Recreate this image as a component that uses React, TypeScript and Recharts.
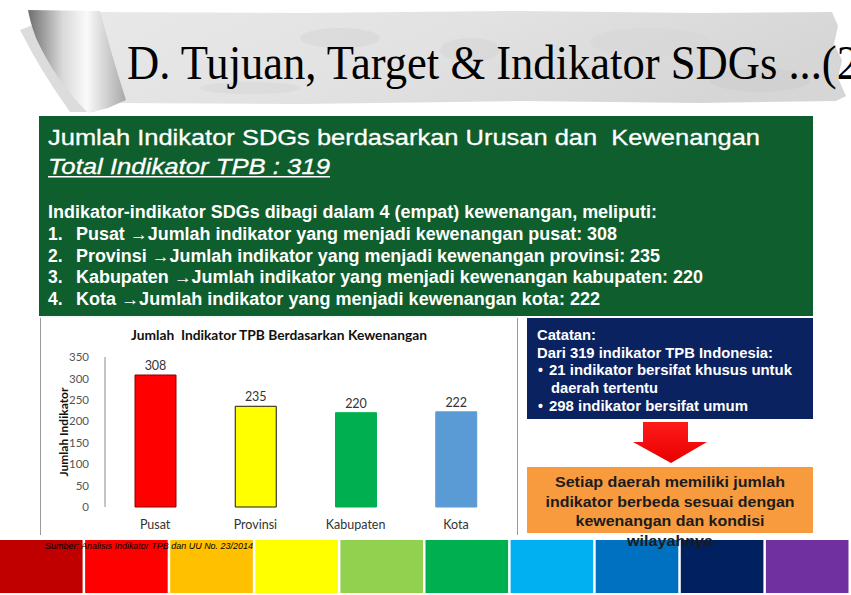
import React from 'react';
import { BarChart, Bar, XAxis, YAxis, Cell, LabelList } from 'recharts';

const categories = ['Pusat', 'Provinsi', 'Kabupaten', 'Kota'];
const values = [308, 235, 220, 222];
const barColors = ['#FF0000', '#FFFF00', '#00B050', '#5B9BD5'];
const barStrokes = ['#8B0000', '#1a1a1a', '#00B050', '#5B9BD5'];
const yTicks = [0, 50, 100, 150, 200, 250, 300, 350];

const pageTitle = 'D. Tujuan, Target & Indikator SDGs ...(2';
const greenHeading = 'Jumlah Indikator SDGs berdasarkan Urusan dan  Kewenangan';
const greenTotal = 'Total Indikator TPB : 319';
const greenIntro = 'Indikator-indikator SDGs dibagi dalam 4 (empat) kewenangan, meliputi:';
const greenItems = [
  'Pusat \u2192Jumlah indikator yang menjadi kewenangan pusat: 308',
  'Provinsi \u2192Jumlah indikator yang menjadi kewenangan provinsi: 235',
  'Kabupaten \u2192Jumlah indikator yang menjadi kewenangan kabupaten: 220',
  'Kota \u2192Jumlah indikator yang menjadi kewenangan kota: 222',
];
const greenItemEnds = [617, 660, 703, 600];
const noteLines = ['Catatan:', 'Dari 319 indikator TPB Indonesia:'];
const noteBullets = ['21 indikator bersifat khusus untuk', 'daerah tertentu', '298 indikator bersifat umum'];
const orangeLines = ['Setiap daerah memiliki jumlah', 'indikator berbeda sesuai dengan', 'kewenangan dan kondisi', 'wilayahnya'];
const orangeWidths = [230, 249, 189, 86];
const stripColors = ['#C00000', '#FF0000', '#FFC000', '#FFFF00', '#92D050', '#00B050', '#00B0F0', '#0070C0', '#002060', '#7030A0'];
const chartTitle = 'Jumlah  Indikator TPB Berdasarkan Kewenangan';
const yAxisTitle = 'Jumlah Indikator';
const sourceText = 'Sumber: Analisis Indikator TPB dan UU No. 23/2014';

const data = categories.map((c, i) => ({ name: c, value: values[i] }));

const chartFont = 'Lato, "Open Sans", sans-serif';

const YLabel = (props: any) => {
  const vb = props.viewBox || { x: 0, y: 39, width: 65, height: 150 };
  const cx = vb.x + 23;
  const cy = vb.y + vb.height / 2;
  return (
    <text
      x={cx}
      y={cy}
      transform={`rotate(-90, ${cx}, ${cy})`}
      textAnchor="middle"
      dominantBaseline="central"
      fontFamily={chartFont}
      fontWeight={700}
      fontSize={12}
      fill="#111"
    >
      {yAxisTitle}
    </text>
  );
};

const Background = () => (
  <svg width={851} height={595} style={{ position: 'absolute', left: 0, top: 0 }}>
    <defs>
      <linearGradient id="paper" x1="0" y1="0" x2="1" y2="0.3">
        <stop offset="0" stopColor="#e8e8e8" />
        <stop offset="0.5" stopColor="#e2e2e2" />
        <stop offset="1" stopColor="#d6d6d6" />
      </linearGradient>
      <linearGradient id="curl" x1="0" y1="0" x2="1" y2="0">
        <stop offset="0" stopColor="#6e6e6e" />
        <stop offset="0.35" stopColor="#d8d8d8" />
        <stop offset="0.6" stopColor="#fafafa" />
        <stop offset="1" stopColor="#a8a8a8" />
      </linearGradient>
      <linearGradient id="arrowG" x1="0" y1="0" x2="0" y2="1">
        <stop offset="0" stopColor="#ff1a1a" />
        <stop offset="1" stopColor="#e80000" />
      </linearGradient>
    </defs>
    <rect x={0} y={0} width={851} height={595} fill="#ffffff" />
    {/* banner */}
    <path
      d="M100,12 L300,13 L520,11 L700,13 L832,12 L838,26 L834,44 L842,60 L838,78 L846,96 L836,101 L700,103 L520,101 L300,104 L118,103 Z"
      fill="url(#paper)"
    />
    <ellipse cx={340} cy={38} rx={40} ry={10} fill="#d3d3d3" opacity={0.5} />
    <ellipse cx={470} cy={50} rx={30} ry={12} fill="#d3d3d3" opacity={0.5} />
    <ellipse cx={650} cy={42} rx={60} ry={14} fill="#d6d6d6" opacity={0.5} />
    <ellipse cx={760} cy={80} rx={50} ry={12} fill="#cccccc" opacity={0.5} />
    <ellipse cx={250} cy={88} rx={50} ry={6} fill="#d6d6d6" opacity={0.5} />
    <path d="M20,30 Q40,70 70,112 L95,112 Q60,75 40,22 Z" fill="#9a9a9a" opacity={0.35} />
    <path
      d="M28,10 L100,11 Q110,50 126,100 L108,108 L88,113 Q55,80 36,38 Q30,22 28,10 Z"
      fill="url(#curl)"
    />
    <text
      x={127}
      y={79}
      fontFamily='"Liberation Serif", "DejaVu Serif", serif'
      fontSize={48}
      fill="#000"
      textLength={732}
      lengthAdjust="spacingAndGlyphs"
    >
      {pageTitle}
    </text>
    {/* green box */}
    <rect x={39} y={116} width={774} height={200} fill="#0F5E2D" />
    <text
      x={48}
      y={145}
      fontFamily='"Liberation Sans", Arial, sans-serif'
      fontSize={21.5}
      fill="#fff"
      stroke="#fff"
      strokeWidth={0.3}
      style={{ whiteSpace: 'pre' }}
      textLength={712}
      lengthAdjust="spacingAndGlyphs"
    >
      {greenHeading}
    </text>
    <text
      x={48}
      y={174}
      fontFamily='"Liberation Sans", Arial, sans-serif'
      fontSize={21.5}
      fontStyle="italic"
      fill="#fff"
      stroke="#fff"
      strokeWidth={0.3}
      textLength={282}
      lengthAdjust="spacingAndGlyphs"
    >
      {greenTotal}
    </text>
    <rect x={48} y={176} width={282} height={1.5} fill="#fff" />
    <text
      x={48}
      y={218}
      fontFamily='"Liberation Sans Narrow", "Liberation Sans", Arial, sans-serif'
      fontSize={17.5}
      fontWeight={700}
      fill="#fff"
      textLength={609}
      lengthAdjust="spacingAndGlyphs"
    >
      {greenIntro}
    </text>
    {greenItems.map((t, i) => (
      <g key={t}>
        <text
          x={48}
          y={240 + i * 21.5}
          fontFamily='"Liberation Sans Narrow", "Liberation Sans", Arial, sans-serif'
          fontSize={17.5}
          fontWeight={700}
          fill="#fff"
        >
          {`${i + 1}.`}
        </text>
        <text
          x={76}
          y={240 + i * 21.5}
          fontFamily='"Liberation Sans Narrow", "Liberation Sans", Arial, sans-serif'
          fontSize={17.5}
          fontWeight={700}
          fill="#fff"
          textLength={greenItemEnds[i] - 76}
          lengthAdjust="spacingAndGlyphs"
        >
          {t}
        </text>
      </g>
    ))}
    {/* chart panel */}
    <rect x={40} y={318} width={478} height={217} fill="#fff" />
    <line x1={40.5} y1={318} x2={40.5} y2={535} stroke="#9a9a9a" strokeWidth={1} />
    <line x1={517.5} y1={318} x2={517.5} y2={535} stroke="#9a9a9a" strokeWidth={1} />
    <line x1={40} y1={317} x2={518} y2={317} stroke="#dff3ee" strokeWidth={1} />
    <text
      x={279}
      y={340}
      textAnchor="middle"
      fontFamily={chartFont}
      fontWeight={700}
      fontSize={13}
      fill="#111"
      style={{ whiteSpace: 'pre' }}
      textLength={296}
      lengthAdjust="spacingAndGlyphs"
    >
      {chartTitle}
    </text>
    {/* navy note box */}
    <rect x={527} y={318} width={286} height={101} fill="#0B2260" />
    {noteLines.map((t, i) => (
      <text
        key={t}
        x={537}
        y={340 + i * 17.5}
        fontFamily='"Liberation Sans", Arial, sans-serif'
        fontSize={14}
        fontWeight={700}
        fill="#fff"
        textLength={i === 0 ? 59 : 236}
        lengthAdjust="spacingAndGlyphs"
      >
        {t}
      </text>
    ))}
    <text x={538} y={375} fontFamily='"Liberation Sans", Arial, sans-serif' fontSize={14} fontWeight={700} fill="#fff">{'\u2022'}</text>
    <text x={538} y={411} fontFamily='"Liberation Sans", Arial, sans-serif' fontSize={14} fontWeight={700} fill="#fff">{'\u2022'}</text>
    {noteBullets.map((t, i) => (
      <text
        key={t}
        x={i === 1 ? 551 : 549}
        y={375 + i * 18}
        fontFamily='"Liberation Sans", Arial, sans-serif'
        fontSize={14}
        fontWeight={700}
        fill="#fff"
        textLength={[243, 107, 199][i]}
        lengthAdjust="spacingAndGlyphs"
      >
        {t}
      </text>
    ))}
    {/* arrow */}
    <path d="M643,422 L688,422 L688,442 L707,442 L671,463 L633,442 L643,442 Z" fill="url(#arrowG)" />
    {/* orange box */}
    <rect x={527} y={467} width={286} height={66} fill="#F89B3E" />
    {/* strips */}
    {stripColors.map((c, i) => (
      <rect key={c} x={i * 85.1} y={540} width={82.6} height={53} fill={c} />
    ))}
    {orangeLines.map((t, i) => (
      <text
        key={t}
        x={670}
        y={487 + i * 19.5}
        textAnchor="middle"
        fontFamily='"Liberation Sans", Arial, sans-serif'
        fontSize={15.5}
        fontWeight={700}
        fill="#1c1c1c"
        textLength={orangeWidths[i]}
        lengthAdjust="spacingAndGlyphs"
      >
        {t}
      </text>
    ))}
    <text
      x={45}
      y={549}
      fontFamily='"Liberation Sans", Arial, sans-serif'
      fontSize={8.5}
      fontStyle="italic"
      fill="#000"
      textLength={208}
      lengthAdjust="spacingAndGlyphs"
    >
      {sourceText}
    </text>
  </svg>
);

export default function App() {
  return (
    <div style={{ position: 'absolute', left: 0, top: 0, width: 851, height: 595, overflow: 'hidden', background: '#fff' }}>
      <Background />
      <div style={{ position: 'absolute', left: 40, top: 318, width: 478, height: 217 }}>
        <BarChart width={478} height={217} data={data} margin={{ top: 39, right: 12, left: 0, bottom: 0 }}>
          <XAxis
            dataKey="name"
            height={28}
            axisLine={false}
            tickLine={false}
            tickMargin={7}
            tick={{ fontSize: 12.5, fill: '#333', fontFamily: chartFont }}
          />
          <YAxis
            width={65}
            domain={[0, 350]}
            ticks={yTicks}
            interval={0}
            axisLine={{ stroke: '#8a8a8a' }}
            tickLine={false}
            tickMargin={10}
            tick={{ fontSize: 11.5, fill: '#555', fontFamily: chartFont }}
            label={<YLabel />}
          />
          <Bar dataKey="value" barSize={41} isAnimationActive={false}>
            {data.map((d, i) => (
              <Cell key={d.name} fill={barColors[i]} stroke={barStrokes[i]} strokeWidth={1} />
            ))}
            <LabelList dataKey="value" position="top" offset={5} fill="#333" fontSize={12.5} fontFamily={chartFont} />
          </Bar>
        </BarChart>
      </div>
    </div>
  );
}
